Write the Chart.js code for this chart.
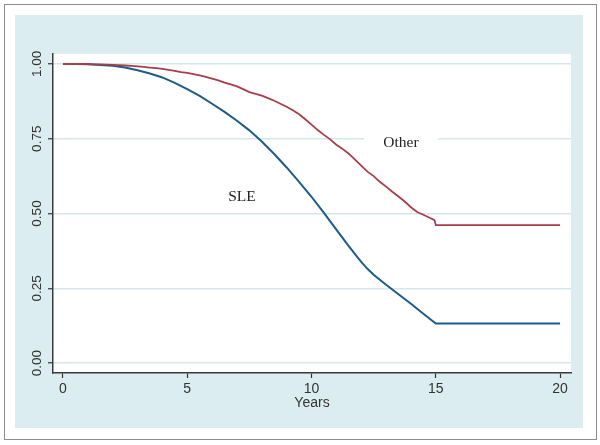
<!DOCTYPE html>
<html>
<head>
<meta charset="utf-8">
<script src="https://cdn.jsdelivr.net/npm/chart.js@4"></script>
<style>
  html, body { margin: 0; padding: 0; background: #fff; }
  #frame { position: absolute; left: 4px; top: 4px; width: 591px; height: 434px; border: 1px solid #8c8c8c; }
  #panel { position: absolute; left: 15px; top: 15px; width: 568px; height: 413px; background: #dcedf1; }
  #wrap { position: absolute; left: 0; top: 0; width: 600px; height: 445px; }
</style>
</head>
<body>
<div id="frame"></div>
<div id="panel"></div>
<div id="wrap"><canvas id="kmChart" width="600" height="445"></canvas></div>
<script>
// Survival curves
const sleYears = [0, 0.5, 1, 1.5, 2, 2.5, 3, 3.5, 4, 4.5, 5, 5.5, 6, 6.5, 7, 7.5, 8, 8.5, 9, 9.5,
  10, 10.5, 11, 11.5, 11.75, 12, 12.25, 12.5, 13, 13.5, 14, 14.5, 15, 20];
const sleSurv = [1.000, 1.000, 0.999, 0.997, 0.994, 0.988, 0.979, 0.968, 0.955, 0.937, 0.916, 0.893,
  0.867, 0.840, 0.810, 0.778, 0.741, 0.699, 0.654, 0.606, 0.556, 0.502, 0.446, 0.391, 0.364, 0.338,
  0.315, 0.295, 0.262, 0.230, 0.198, 0.165, 0.132, 0.132];

const otherYears = [0, 0.25, 0.5, 0.75, 1, 1.25, 1.5, 1.75, 2, 2.25, 2.5, 2.75, 3, 3.25, 3.5, 3.75,
  4, 4.25, 4.5, 4.75, 5, 5.25, 5.5, 5.75, 6, 6.25, 6.5, 6.75, 7, 7.25, 7.5, 7.75, 8, 8.25, 8.5, 8.75,
  9, 9.25, 9.5, 9.75, 10, 10.25, 10.5, 10.75, 11, 11.25, 11.5, 11.75, 12, 12.25, 12.5, 12.75,
  13, 13.25, 13.5, 13.75, 14, 14.25, 14.5, 14.75, 14.95, 15, 20];
const otherSurv = [1.000, 1.000, 1.000, 1.000, 1.000, 0.999, 0.999, 0.998, 0.997, 0.996, 0.995, 0.994,
  0.992, 0.990, 0.988, 0.986, 0.984, 0.980, 0.977, 0.973, 0.970, 0.966, 0.962, 0.957, 0.951, 0.945,
  0.938, 0.932, 0.925, 0.916, 0.906, 0.900, 0.894, 0.886, 0.877, 0.867, 0.857, 0.845, 0.832, 0.815,
  0.797, 0.779, 0.763, 0.748, 0.730, 0.716, 0.700, 0.680, 0.660, 0.640, 0.625, 0.606, 0.590, 0.573,
  0.557, 0.540, 0.521, 0.505, 0.496, 0.486, 0.478, 0.461, 0.461];

const xTicks = [0, 5, 10, 15, 20];
const yTicks = [0, 0.25, 0.5, 0.75, 1];

// text labels placed in data units
const curveLabels = [
  { text: 'Other', x: 13.6, y: 0.737, box: true },
  { text: 'SLE', x: 7.2, y: 0.555, box: false }
];

const toPoints = (xs, ys) => xs.map((x, i) => ({ x: x, y: ys[i] }));

// white plot area
const plotBg = {
  id: 'plotBg',
  beforeDraw(chart) {
    const a = chart.chartArea, ctx = chart.ctx;
    ctx.save();
    ctx.fillStyle = '#ffffff';
    ctx.fillRect(a.left, a.top, a.right - a.left, a.bottom - a.top);
    ctx.restore();
  }
};

// curve names, drawn after the grid but under the lines
const curveText = {
  id: 'curveText',
  beforeDatasetsDraw(chart) {
    const ctx = chart.ctx, sx = chart.scales.x, sy = chart.scales.y;
    ctx.save();
    ctx.font = '15.5px "Liberation Serif", "Times New Roman", serif';
    ctx.textAlign = 'center';
    ctx.textBaseline = 'middle';
    curveLabels.forEach(l => {
      const px = sx.getPixelForValue(l.x), py = sy.getPixelForValue(l.y);
      if (l.box) {
        ctx.fillStyle = '#ffffff';
        ctx.fillRect(px - 37, py - 6, 74, 12);
      }
      ctx.fillStyle = '#222222';
      ctx.fillText(l.text, px, py);
    });
    ctx.restore();
  }
};

const ctx = document.getElementById('kmChart').getContext('2d');
new Chart(ctx, {
  type: 'line',
  data: {
    datasets: [
      {
        label: 'Other',
        data: toPoints(otherYears, otherSurv),
        borderColor: '#a63d4a',
        borderWidth: 1.8,
        pointRadius: 0,
        tension: 0,
        fill: false
      },
      {
        label: 'SLE',
        data: toPoints(sleYears, sleSurv),
        borderColor: '#1e5b87',
        borderWidth: 2,
        pointRadius: 0,
        tension: 0,
        fill: false
      }
    ]
  },
  options: {
    responsive: false,
    animation: false,
    events: [],
    layout: { padding: { top: 54, right: 29, bottom: 0, left: 0 } },
    plugins: { legend: { display: false }, tooltip: { enabled: false } },
    scales: {
      x: {
        type: 'linear',
        min: -0.4,
        max: 20.44,
        afterFit(s) { s.height = 72; },
        afterBuildTicks(s) { s.ticks = xTicks.map(v => ({ value: v })); },
        ticks: {
          stepSize: 5,
          includeBounds: false,
          maxRotation: 0,
          padding: 3,
          color: '#333333',
          font: { family: '"Liberation Sans", Arial, sans-serif', size: 14 }
        },
        grid: { drawOnChartArea: false, tickLength: 5, tickColor: '#333333', tickWidth: 1.2 },
        border: { color: '#3a3a3a', width: 1.5 },
        title: {
          display: true,
          text: 'Years',
          color: '#333333',
          padding: { top: 0, bottom: 33 },
          font: { family: '"Liberation Sans", Arial, sans-serif', size: 14 }
        }
      },
      y: {
        type: 'linear',
        min: -0.0334,
        max: 1.0334,
        afterFit(s) { s.width = 53; },
        afterBuildTicks(s) { s.ticks = yTicks.map(v => ({ value: v })); },
        ticks: {
          stepSize: 0.25,
          includeBounds: false,
          minRotation: 90,
          maxRotation: 90,
          crossAlign: 'center',
          padding: -2,
          color: '#333333',
          font: { family: '"Liberation Sans", Arial, sans-serif', size: 13.5 },
          callback: v => Number(v).toFixed(2)
        },
        grid: { color: '#d4e7ed', lineWidth: 1.5, tickLength: 5, tickColor: '#333333', tickWidth: 1.2 },
        border: { color: '#3a3a3a', width: 1.5 }
      }
    }
  },
  plugins: [plotBg, curveText]
});
</script>
</body>
</html>
